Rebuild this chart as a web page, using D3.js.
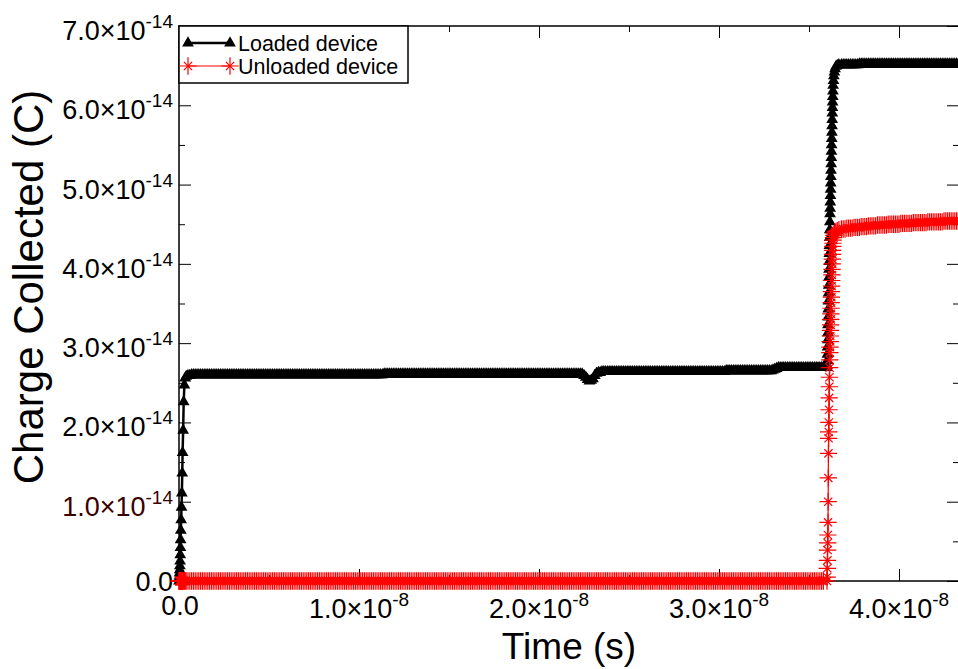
<!DOCTYPE html>
<html><head><meta charset="utf-8">
<script src="https://cdn.jsdelivr.net/npm/d3@7"></script>
<style>
body{margin:0;background:#fff}
svg{display:block}
text{font-family:"Liberation Sans",Arial,Helvetica,sans-serif}
</style>
</head><body>
<svg id="c" width="958" height="669"></svg>
<script>
// ---- DATA (time in ns, charge in units of 1e-14 C) ----
const time = [
 // initial rise
 0,0.01,0.02,0.03,0.04,0.05,0.06,0.07,0.08,0.09,
 0.10,0.12,0.14,0.16,0.18,0.20,0.23,0.26,0.30,0.35,
 // plateau
 0.4,0.5,0.6,0.7,0.8,0.9,1.0,1.1,1.2,1.3,
 1.4,1.5,1.6,1.7,1.8,1.9,2.0,2.1,2.2,2.3,
 2.4,2.5,2.6,2.7,2.8,2.9,3.0,3.1,3.2,3.3,
 3.4,3.5,3.6,3.7,3.8,3.9,4.0,4.1,4.2,4.3,
 4.4,4.5,4.6,4.7,4.8,4.9,5.0,5.1,5.2,5.3,
 5.4,5.5,5.6,5.7,5.8,5.9,6.0,6.1,6.2,6.3,
 6.4,6.5,6.6,6.7,6.8,6.9,7.0,7.1,7.2,7.3,
 7.4,7.5,7.6,7.7,7.8,7.9,8.0,8.1,8.2,8.3,
 8.4,8.5,8.6,8.7,8.8,8.9,9.0,9.1,9.2,9.3,
 9.4,9.5,9.6,9.7,9.8,9.9,10.0,10.1,10.2,10.3,
 10.4,10.5,10.6,10.7,10.8,10.9,11.0,11.1,11.2,11.3,
 11.4,11.5,11.6,11.7,11.8,11.9,12.0,12.1,12.2,12.3,
 12.4,12.5,12.6,12.7,12.8,12.9,13.0,13.1,13.2,13.3,
 13.4,13.5,13.6,13.7,13.8,13.9,14.0,14.1,14.2,14.3,
 14.4,14.5,14.6,14.7,14.8,14.9,15.0,15.1,15.2,15.3,
 15.4,15.5,15.6,15.7,15.8,15.9,16.0,16.1,16.2,16.3,
 16.4,16.5,16.6,16.7,16.8,16.9,17.0,17.1,17.2,17.3,
 17.4,17.5,17.6,17.7,17.8,17.9,18.0,18.1,18.2,18.3,
 18.4,18.5,18.6,18.7,18.8,18.9,19.0,19.1,19.2,19.3,
 19.4,19.5,19.6,19.7,19.8,19.9,20.0,20.1,20.2,20.3,
 20.4,20.5,20.6,20.7,20.8,20.9,21.0,21.1,21.2,21.3,
 21.4,21.5,21.6,21.7,21.8,21.9,22.0,22.1,22.2,22.3,
 22.4,22.5,22.6,22.7,22.8,22.9,23.0,23.1,23.2,23.3,
 23.4,23.5,23.6,23.7,23.8,23.9,24.0,24.1,24.2,24.3,
 24.4,24.5,24.6,24.7,24.8,24.9,25.0,25.1,25.2,25.3,
 25.4,25.5,25.6,25.7,25.8,25.9,26.0,26.1,26.2,26.3,
 26.4,26.5,26.6,26.7,26.8,26.9,27.0,27.1,27.2,27.3,
 27.4,27.5,27.6,27.7,27.8,27.9,28.0,28.1,28.2,28.3,
 28.4,28.5,28.6,28.7,28.8,28.9,29.0,29.1,29.2,29.3,
 29.4,29.5,29.6,29.7,29.8,29.9,30.0,30.1,30.2,30.3,
 30.4,30.5,30.6,30.7,30.8,30.9,31.0,31.1,31.2,31.3,
 31.4,31.5,31.6,31.7,31.8,31.9,32.0,32.1,32.2,32.3,
 32.4,32.5,32.6,32.7,32.8,32.9,33.0,33.1,33.2,33.3,
 33.4,33.5,33.6,33.7,33.8,33.9,34.0,34.1,34.2,34.3,
 34.4,34.5,34.6,34.7,34.8,34.9,35.0,35.1,35.2,35.3,
 35.4,35.5,35.6,35.7,35.8,
 // second event
 36.000,36.008,36.016,36.024,36.032,36.040,36.048,36.056,36.064,36.072,
 36.080,36.088,36.096,36.104,36.112,36.120,36.128,36.136,36.144,36.152,
 36.160,36.168,36.176,36.184,36.192,36.200,36.208,36.216,36.224,36.232,
 36.240,36.248,36.256,36.264,36.272,36.280,36.288,36.296,36.304,36.31,
 36.32,36.33,36.34,36.36,36.38,36.41,36.45,36.50,36.57,36.66,
 // final plateau
 36.8,36.9,37.0,37.1,37.2,37.3,37.4,37.5,37.6,37.7,
 37.8,37.9,38.0,38.1,38.2,38.3,38.4,38.5,38.6,38.7,
 38.8,38.9,39.0,39.1,39.2,39.3,39.4,39.5,39.6,39.7,
 39.8,39.9,40.0,40.1,40.2,40.3,40.4,40.5,40.6,40.7,
 40.8,40.9,41.0,41.1,41.2,41.3,41.4,41.5,41.6,41.7,
 41.8,41.9,42.0,42.1,42.2,42.3,42.4,42.5,42.6,42.7,
 42.8,42.9,43.0,43.1,43.2,43.3,43.4
];
const loaded = [
 0,0.03,0.06,0.10,0.14,0.19,0.25,0.33,0.42,0.52,
 0.64,0.77,0.93,1.11,1.36,1.62,1.90,2.26,2.47,2.56,
 2.58,2.59,2.59,2.60,2.60,2.60,2.60,2.60,2.60,2.60,
 2.60,2.60,2.60,2.60,2.60,2.60,2.60,2.60,2.60,2.60,
 2.60,2.60,2.60,2.60,2.60,2.60,2.60,2.60,2.60,2.60,
 2.60,2.60,2.60,2.60,2.60,2.60,2.60,2.60,2.60,2.60,
 2.60,2.60,2.60,2.60,2.60,2.60,2.60,2.60,2.60,2.60,
 2.60,2.60,2.60,2.60,2.60,2.60,2.60,2.60,2.60,2.60,
 2.60,2.60,2.60,2.60,2.60,2.60,2.60,2.60,2.60,2.60,
 2.60,2.60,2.60,2.60,2.60,2.60,2.60,2.60,2.60,2.60,
 2.60,2.60,2.60,2.60,2.60,2.60,2.60,2.60,2.60,2.60,
 2.60,2.60,2.60,2.60,2.60,2.60,2.60,2.60,2.60,2.60,
 2.60,2.60,2.60,2.60,2.60,2.60,2.60,2.60,2.60,2.60,
 2.61,2.61,2.61,2.61,2.61,2.61,2.61,2.61,2.61,2.61,
 2.61,2.61,2.61,2.61,2.61,2.61,2.61,2.61,2.61,2.61,
 2.61,2.61,2.61,2.61,2.61,2.61,2.61,2.61,2.61,2.61,
 2.61,2.61,2.61,2.61,2.61,2.61,2.61,2.61,2.61,2.61,
 2.61,2.61,2.61,2.61,2.61,2.61,2.61,2.61,2.61,2.61,
 2.61,2.61,2.61,2.61,2.61,2.61,2.61,2.61,2.61,2.61,
 2.61,2.61,2.61,2.61,2.61,2.61,2.61,2.61,2.61,2.61,
 2.61,2.61,2.61,2.61,2.61,2.61,2.61,2.61,2.61,2.61,
 2.61,2.61,2.61,2.61,2.61,2.61,2.61,2.61,2.61,2.61,
 2.61,2.61,2.61,2.61,2.61,2.61,2.61,2.61,2.61,2.61,
 2.61,2.61,2.61,2.61,2.61,2.61,2.61,2.61,2.61,2.61,
 2.61,2.59,2.57,2.54,2.52,2.53,2.55,2.59,2.62,2.63,
 2.63,2.64,2.64,2.64,2.64,2.64,2.64,2.64,2.64,2.64,
 2.64,2.64,2.64,2.64,2.64,2.64,2.64,2.64,2.64,2.64,
 2.64,2.64,2.64,2.64,2.64,2.64,2.64,2.64,2.64,2.64,
 2.64,2.64,2.64,2.64,2.64,2.64,2.64,2.64,2.64,2.64,
 2.64,2.64,2.64,2.64,2.64,2.64,2.64,2.64,2.64,2.64,
 2.64,2.64,2.64,2.64,2.64,2.64,2.64,2.64,2.64,2.64,
 2.64,2.64,2.64,2.64,2.64,2.64,2.64,2.64,2.64,2.64,
 2.65,2.65,2.65,2.65,2.65,2.65,2.65,2.65,2.65,2.65,
 2.65,2.65,2.65,2.65,2.65,2.65,2.65,2.65,2.65,2.65,
 2.65,2.65,2.65,2.65,2.65,2.65,2.66,2.67,2.68,2.69,
 2.69,2.69,2.69,2.69,2.69,2.69,2.69,2.69,2.69,2.69,
 2.69,2.69,2.69,2.69,2.69,2.69,2.69,2.69,2.69,2.69,
 2.69,2.69,2.69,2.69,2.69,
 2.69,2.72,2.78,2.86,2.95,3.04,3.13,3.23,3.33,3.43,
 3.53,3.63,3.73,3.83,3.93,4.03,4.13,4.23,4.33,4.43,
 4.53,4.63,4.70,4.78,4.86,4.94,5.02,5.10,5.18,5.26,
 5.34,5.42,5.50,5.58,5.66,5.74,5.82,5.90,5.97,6.04,
 6.11,6.18,6.25,6.31,6.37,6.42,6.46,6.49,6.50,6.51,
 6.51,6.51,6.51,6.51,6.51,6.51,6.51,6.51,6.51,6.51,
 6.52,6.52,6.52,6.52,6.52,6.52,6.52,6.52,6.52,6.52,
 6.52,6.52,6.52,6.52,6.52,6.52,6.52,6.52,6.52,6.52,
 6.52,6.52,6.52,6.52,6.52,6.52,6.52,6.52,6.52,6.52,
 6.52,6.52,6.52,6.52,6.52,6.52,6.52,6.52,6.52,6.52,
 6.52,6.52,6.52,6.52,6.52,6.52,6.52,6.52,6.52,6.52,
 6.52,6.52,6.52,6.52,6.52,6.52,6.52
];
const unloaded = [
 0,0,0,0,0,0,0,0,0,0,
 0,0,0,0,0,0,0,0,0,0,
 0,0,0,0,0,0,0,0,0,0, 0,0,0,0,0,0,0,0,0,0,
 0,0,0,0,0,0,0,0,0,0, 0,0,0,0,0,0,0,0,0,0,
 0,0,0,0,0,0,0,0,0,0, 0,0,0,0,0,0,0,0,0,0,
 0,0,0,0,0,0,0,0,0,0, 0,0,0,0,0,0,0,0,0,0,
 0,0,0,0,0,0,0,0,0,0, 0,0,0,0,0,0,0,0,0,0,
 0,0,0,0,0,0,0,0,0,0, 0,0,0,0,0,0,0,0,0,0,
 0,0,0,0,0,0,0,0,0,0, 0,0,0,0,0,0,0,0,0,0,
 0,0,0,0,0,0,0,0,0,0, 0,0,0,0,0,0,0,0,0,0,
 0,0,0,0,0,0,0,0,0,0, 0,0,0,0,0,0,0,0,0,0,
 0,0,0,0,0,0,0,0,0,0, 0,0,0,0,0,0,0,0,0,0,
 0,0,0,0,0,0,0,0,0,0, 0,0,0,0,0,0,0,0,0,0,
 0,0,0,0,0,0,0,0,0,0, 0,0,0,0,0,0,0,0,0,0,
 0,0,0,0,0,0,0,0,0,0, 0,0,0,0,0,0,0,0,0,0,
 0,0,0,0,0,0,0,0,0,0, 0,0,0,0,0,0,0,0,0,0,
 0,0,0,0,0,0,0,0,0,0, 0,0,0,0,0,0,0,0,0,0,
 0,0,0,0,0,0,0,0,0,0, 0,0,0,0,0,0,0,0,0,0,
 0,0,0,0,0,0,0,0,0,0, 0,0,0,0,0,0,0,0,0,0,
 0,0,0,0,0,0,0,0,0,0,
 0,0,0,0,0,
 0,0.05,0.16,0.26,0.39,0.48,0.58,0.74,1.00,1.30,
 1.61,1.80,1.88,2.00,2.16,2.31,2.45,2.57,2.69,2.79,
 2.88,2.95,3.02,3.09,3.16,3.23,3.30,3.37,3.44,3.51,
 3.58,3.65,3.72,3.79,3.86,3.93,4.00,4.06,4.12,4.17,
 4.22,4.26,4.30,4.33,4.36,4.38,4.40,4.41,4.42,4.43,
 4.44,4.44,4.44,4.45,4.45,4.45,4.45,4.46,4.46,4.46,
 4.46,4.47,4.47,4.47,4.47,4.48,4.48,4.48,4.48,4.48,
 4.49,4.49,4.49,4.49,4.49,4.49,4.50,4.50,4.50,4.50,
 4.50,4.50,4.50,4.51,4.51,4.51,4.51,4.51,4.51,4.51,
 4.52,4.52,4.52,4.52,4.52,4.52,4.52,4.52,4.53,4.53,
 4.53,4.53,4.53,4.53,4.53,4.53,4.53,4.54,4.54,4.54,
 4.54,4.54,4.54,4.54,4.54,4.54,4.54
];
const seriesNames = ["Loaded device", "Unloaded device"];
const xMajor = [0, 10, 20, 30, 40];
const xMinor = [5, 15, 25, 35];
const xTickMain = ["0.0", "1.0\u00d710", "2.0\u00d710", "3.0\u00d710", "4.0\u00d710"];
const xTickExp = ["", "-8", "-8", "-8", "-8"];
const yMajor = [0, 1, 2, 3, 4, 5, 6, 7];
const yMinor = [0.5, 1.5, 2.5, 3.5, 4.5, 5.5, 6.5];
const yTickMain = ["0.0", "1.0\u00d710", "2.0\u00d710", "3.0\u00d710", "4.0\u00d710", "5.0\u00d710", "6.0\u00d710", "7.0\u00d710"];
const yTickExp = ["", "-14", "-14", "-14", "-14", "-14", "-14", "-14"];
const xTitle = "Time (s)";
const yTitle = "Charge Collected (C)";

if (time.length !== loaded.length || time.length !== unloaded.length) {
  throw new Error("length mismatch " + time.length + " " + loaded.length + " " + unloaded.length);
}

// ---- LAYOUT ----
const svg = d3.select("#c");
const P = {left: 179, top: 26, right: 959, bottom: 581};
const x = d3.scaleLinear().domain([0, (P.right - P.left) / 18]).range([P.left, P.right]);
const y = d3.scaleLinear().domain([0, 7]).range([P.bottom, P.top]);

svg.append("rect").attr("width", 958).attr("height", 669).attr("fill", "#fff");

function tickAxis(axis, transform, values, size) {
  const g = svg.append("g").attr("transform", transform)
    .call(axis.tickValues(values).tickSizeInner(-size).tickSizeOuter(0).tickFormat(""));
  g.select(".domain").remove();
  g.selectAll(".tick line").attr("stroke", "#000").attr("stroke-width", 1);
  return g;
}
tickAxis(d3.axisBottom(x), `translate(0,${P.bottom})`, xMajor, 12);
tickAxis(d3.axisBottom(x), `translate(0,${P.bottom})`, xMinor, 6);
tickAxis(d3.axisTop(x), `translate(0,${P.top})`, xMajor, 12);
tickAxis(d3.axisTop(x), `translate(0,${P.top})`, xMinor, 6);
tickAxis(d3.axisLeft(y), `translate(${P.left},0)`, yMajor, 12);
tickAxis(d3.axisLeft(y), `translate(${P.left},0)`, yMinor, 6);
tickAxis(d3.axisRight(y), `translate(${P.right},0)`, yMajor, 12);
tickAxis(d3.axisRight(y), `translate(${P.right},0)`, yMinor, 6);

svg.append("rect").attr("x", P.left).attr("y", P.top)
  .attr("width", P.right - P.left).attr("height", P.bottom - P.top)
  .attr("fill", "none").attr("stroke", "#000").attr("stroke-width", 1.5);

// tick labels
const FS = 27, SFS = 19;
function labelText(g, main, exp) {
  g.append("tspan").text(main);
  if (exp) g.append("tspan").attr("font-size", SFS).attr("dy", -12).text(exp);
}
yMajor.forEach((v, i) => {
  const t = svg.append("text").attr("x", 173)
    .attr("y", y(v) + (yTickExp[i] ? 14 : 10))
    .attr("text-anchor", "end").attr("font-size", FS)
    .attr("fill", v === 1 ? "#3a0000" : "#000");
  labelText(t, yTickMain[i], yTickExp[i]);
});
xMajor.forEach((v, i) => {
  const t = svg.append("text").attr("x", x(v) + (xTickExp[i] ? 0 : 1))
    .attr("y", P.bottom + (xTickExp[i] ? 37 : 34))
    .attr("text-anchor", "middle").attr("font-size", FS).attr("fill", "#000");
  labelText(t, xTickMain[i], xTickExp[i]);
});

svg.append("text").attr("x", 569).attr("y", 659).attr("text-anchor", "middle")
  .attr("font-size", 37).text(xTitle);
svg.append("text").attr("transform", "translate(43,287) rotate(-90)")
  .attr("text-anchor", "middle").attr("font-size", 42).text(yTitle);

// ---- SERIES ----
const tri = d3.symbol().type(d3.symbolTriangle).size(60);
const plus = d3.symbol().type(d3.symbolPlus).size(100);
const times = d3.symbol().type(d3.symbolTimes).size(46);

function drawMarker(g, px, py, kind) {
  if (kind === "tri") {
    g.append("path").attr("d", tri()).attr("transform", `translate(${px},${py})`).attr("fill", "#000");
  } else {
    g.append("path").attr("d", plus()).attr("transform", `translate(${px},${py})`)
      .attr("fill", "none").attr("stroke", "#ff0000").attr("stroke-width", 1.2);
    g.append("path").attr("d", times()).attr("transform", `translate(${px},${py})`)
      .attr("fill", "none").attr("stroke", "#ff0000").attr("stroke-width", 1.2);
  }
}
function drawSeries(vals, color, lw, kind) {
  const pts = time.map((t, i) => [x(t), y(vals[i])]);
  svg.append("path").attr("d", d3.line()(pts)).attr("fill", "none")
    .attr("stroke", color).attr("stroke-width", lw).attr("stroke-linejoin", "round");
  const g = svg.append("g");
  pts.forEach(p => drawMarker(g, p[0], p[1], kind));
}
drawSeries(loaded, "#000", 2.5, "tri");
drawSeries(unloaded, "#ff0000", 1.2, "star");

// ---- LEGEND ----
svg.append("rect").attr("x", P.left).attr("y", P.top).attr("width", 229).attr("height", 57)
  .attr("fill", "#fff").attr("stroke", "#000").attr("stroke-width", 1.5);
const legendRows = [
  {name: seriesNames[0], color: "#000", lw: 2.5, kind: "tri", cy: 43},
  {name: seriesNames[1], color: "#ff0000", lw: 1.2, kind: "star", cy: 66}
];
const lg = svg.append("g");
legendRows.forEach(r => {
  lg.append("line").attr("x1", 188).attr("x2", 230).attr("y1", r.cy).attr("y2", r.cy)
    .attr("stroke", r.color).attr("stroke-width", r.lw);
  drawMarker(lg, 188, r.cy, r.kind);
  drawMarker(lg, 230, r.cy, r.kind);
  lg.append("text").attr("x", 238).attr("y", r.cy + 7.5).attr("font-size", 21.5)
    .attr("fill", "#000").text(r.name);
});
</script>
</body></html>
